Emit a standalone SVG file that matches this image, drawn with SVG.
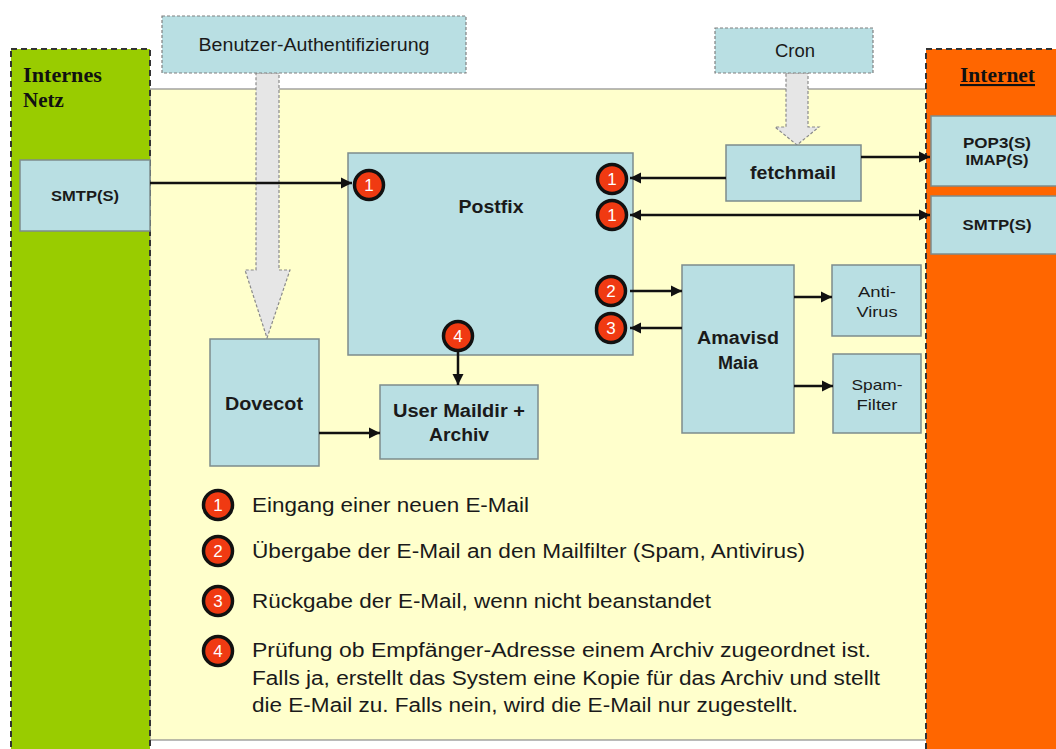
<svg xmlns="http://www.w3.org/2000/svg" width="1056" height="749" viewBox="0 0 1056 749">
<style>
.box{fill:#b9dfe3;stroke:#7d8c8c;stroke-width:1.5}
.dbox{fill:#b9dfe3;stroke:#808080;stroke-width:1.2;stroke-dasharray:3 2}
.t{font-family:"Liberation Sans",Arial,sans-serif;fill:#1a1a1a;text-anchor:middle}
.b{font-weight:bold}
.lg{font-family:"Liberation Sans",Arial,sans-serif;fill:#1a1a1a;font-size:20px}
.zone{font-family:"Liberation Serif","Times New Roman",serif;font-weight:bold;font-size:21px;fill:#111}
.badge circle{fill:#f03a12;stroke:#111;stroke-width:3.5}
.badge text{font-family:"Liberation Sans",Arial,sans-serif;fill:#fff;font-size:17px;text-anchor:middle}
.con{stroke:#111;stroke-width:2.5;fill:none}
.garrow{fill:#e6e6e6;stroke:#8a8a8a;stroke-width:1.2;stroke-dasharray:3 2}
</style>
<defs>
<marker id="ah" viewBox="0 0 10 10" refX="10" refY="5" markerWidth="4.5" markerHeight="4.5" orient="auto-start-reverse" markerUnits="strokeWidth">
<path d="M0,0 L10,5 L0,10 z" fill="#111"/>
</marker>
</defs>
<rect width="1056" height="749" fill="#fff"/>
<rect x="150" y="89" width="778" height="651" fill="#ffffcc" stroke="#8c8c8c" stroke-width="1.2"/>
<g id="internes-netz">
<rect x="11" y="49" width="139" height="710" fill="#99cc00" stroke="#333" stroke-width="2" stroke-dasharray="6 4"/>
<text class="zone" x="23" y="82" textLength="79" lengthAdjust="spacingAndGlyphs">Internes</text>
<text class="zone" x="23" y="107">Netz</text>
</g>
<g id="internet">
<rect x="926" y="49" width="140" height="710" fill="#ff6600" stroke="#333" stroke-width="2" stroke-dasharray="6 4"/>
<text class="zone" x="960" y="82" textLength="75" lengthAdjust="spacingAndGlyphs" text-decoration="underline">Internet</text>
</g>
<g id="auth-arrow">
<path class="garrow" d="M256,73 L279,73 L279,270 L290,270 L267,338 L245,270 L256,270 Z"/>
</g>
<g id="cron-arrow">
<path class="garrow" d="M786,73 L808,73 L808,127 L819,127 L797,145 L775,127 L786,127 Z"/>
</g>
<g id="auth">
<rect class="dbox" x="162" y="16" width="304" height="57"/>
<text class="t" x="314" y="51" font-size="18" textLength="231" lengthAdjust="spacingAndGlyphs">Benutzer-Authentifizierung</text>
</g>
<g id="cron">
<rect class="dbox" x="715" y="28" width="158" height="45"/>
<text class="t" x="795" y="57" font-size="18" textLength="40" lengthAdjust="spacingAndGlyphs">Cron</text>
</g>
<g id="smtp-left">
<rect class="box" x="20" y="160" width="130" height="71"/>
<text class="t b" x="85" y="201" font-size="14" textLength="68" lengthAdjust="spacingAndGlyphs">SMTP(S)</text>
</g>
<g id="pop3">
<rect class="box" x="931" y="116" width="135" height="70"/>
<text class="t b" x="997" y="148" font-size="14" textLength="68" lengthAdjust="spacingAndGlyphs">POP3(S)</text>
<text class="t b" x="997" y="165" font-size="14" textLength="63" lengthAdjust="spacingAndGlyphs">IMAP(S)</text>
</g>
<g id="smtp-right">
<rect class="box" x="931" y="196" width="135" height="58"/>
<text class="t b" x="997" y="230" font-size="14" textLength="69" lengthAdjust="spacingAndGlyphs">SMTP(S)</text>
</g>
<g id="postfix">
<rect class="box" x="348" y="153" width="285" height="202"/>
<text class="t b" x="491" y="213" font-size="18" textLength="65" lengthAdjust="spacingAndGlyphs">Postfix</text>
</g>
<g id="fetchmail">
<rect class="box" x="726" y="145" width="135" height="56"/>
<text class="t b" x="793" y="179" font-size="18" textLength="86" lengthAdjust="spacingAndGlyphs">fetchmail</text>
</g>
<g id="amavisd">
<rect class="box" x="682" y="265" width="112" height="168"/>
<text class="t b" x="738" y="344" font-size="18" textLength="82" lengthAdjust="spacingAndGlyphs">Amavisd</text>
<text class="t b" x="738" y="369" font-size="18">Maia</text>
</g>
<g id="antivirus">
<rect class="box" x="832" y="265" width="89" height="71"/>
<text class="t" x="877" y="297" font-size="15" textLength="38" lengthAdjust="spacingAndGlyphs">Anti-</text>
<text class="t" x="877" y="317" font-size="15" textLength="41" lengthAdjust="spacingAndGlyphs">Virus</text>
</g>
<g id="spamfilter">
<rect class="box" x="833" y="354" width="88" height="79"/>
<text class="t" x="877" y="390" font-size="15" textLength="51" lengthAdjust="spacingAndGlyphs">Spam-</text>
<text class="t" x="877" y="410" font-size="15" textLength="41" lengthAdjust="spacingAndGlyphs">Filter</text>
</g>
<g id="dovecot">
<rect class="box" x="210" y="339" width="109" height="127"/>
<text class="t b" x="264" y="410" font-size="18" textLength="78" lengthAdjust="spacingAndGlyphs">Dovecot</text>
</g>
<g id="maildir">
<rect class="box" x="380" y="385" width="158" height="74"/>
<text class="t b" x="459" y="417" font-size="18" textLength="132" lengthAdjust="spacingAndGlyphs">User Maildir +</text>
<text class="t b" x="459" y="441" font-size="18" textLength="60" lengthAdjust="spacingAndGlyphs">Archiv</text>
</g>
<g id="connectors">
<line class="con" x1="150" y1="183" x2="352" y2="183" marker-end="url(#ah)"/>
<line class="con" x1="726" y1="178" x2="630" y2="178" marker-end="url(#ah)"/>
<line class="con" x1="861" y1="157" x2="930" y2="157" marker-end="url(#ah)"/>
<line class="con" x1="630" y1="215" x2="930" y2="215" marker-start="url(#ah)" marker-end="url(#ah)"/>
<line class="con" x1="630" y1="291" x2="682" y2="291" marker-end="url(#ah)"/>
<line class="con" x1="682" y1="328" x2="630" y2="328" marker-end="url(#ah)"/>
<line class="con" x1="794" y1="297" x2="832" y2="297" marker-end="url(#ah)"/>
<line class="con" x1="794" y1="386" x2="833" y2="386" marker-end="url(#ah)"/>
<line class="con" x1="319" y1="433" x2="380" y2="433" marker-end="url(#ah)"/>
<line class="con" x1="458" y1="352" x2="458" y2="385" marker-end="url(#ah)"/>
</g>
<g id="badges">
<g class="badge"><circle cx="369" cy="185" r="14.5"/><text x="369" y="191">1</text></g>
<g class="badge"><circle cx="612" cy="179" r="14.5"/><text x="612" y="185">1</text></g>
<g class="badge"><circle cx="612" cy="215" r="14.5"/><text x="612" y="221">1</text></g>
<g class="badge"><circle cx="611" cy="291" r="14.5"/><text x="611" y="297">2</text></g>
<g class="badge"><circle cx="611" cy="328" r="14.5"/><text x="611" y="334">3</text></g>
<g class="badge"><circle cx="458" cy="336" r="14.5"/><text x="458" y="342">4</text></g>
</g>
<g id="legend">
<g class="badge"><circle cx="218" cy="505" r="14.5"/><text x="218" y="511">1</text></g>
<g class="badge"><circle cx="218" cy="551" r="14.5"/><text x="218" y="557">2</text></g>
<g class="badge"><circle cx="218" cy="601" r="14.5"/><text x="218" y="607">3</text></g>
<g class="badge"><circle cx="218" cy="651" r="14.5"/><text x="218" y="657">4</text></g>
<text class="lg" x="252" y="512" textLength="277" lengthAdjust="spacingAndGlyphs">Eingang einer neuen E-Mail</text>
<text class="lg" x="252" y="558" textLength="553" lengthAdjust="spacingAndGlyphs">Übergabe der E-Mail an den Mailfilter (Spam, Antivirus)</text>
<text class="lg" x="252" y="608" textLength="459" lengthAdjust="spacingAndGlyphs">Rückgabe der E-Mail, wenn nicht beanstandet</text>
<text class="lg" x="252" y="657" textLength="619" lengthAdjust="spacingAndGlyphs">Prüfung ob Empfänger-Adresse einem Archiv zugeordnet ist.</text>
<text class="lg" x="252" y="685" textLength="628" lengthAdjust="spacingAndGlyphs">Falls ja, erstellt das System eine Kopie für das Archiv und stellt</text>
<text class="lg" x="252" y="712" textLength="546" lengthAdjust="spacingAndGlyphs">die E-Mail zu. Falls nein, wird die E-Mail nur zugestellt.</text>
</g>
</svg>
